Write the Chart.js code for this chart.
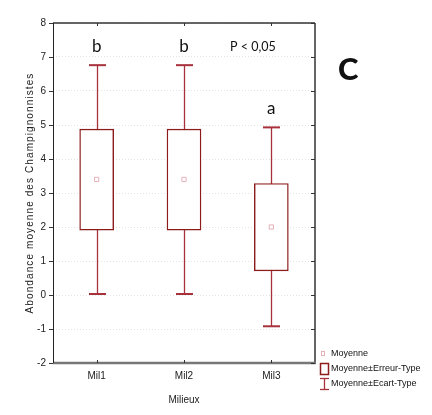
<!DOCTYPE html>
<html><head><meta charset="utf-8">
<script src="https://cdn.jsdelivr.net/npm/chart.js@4/dist/chart.umd.min.js"></script>
<style>html,body{margin:0;padding:0;background:#fff}#wrap{width:432px;height:415px}</style>
</head><body><div id="wrap"><canvas id="c" width="432" height="415"></canvas></div>
<script>
const categories = ['Mil1', 'Mil2', 'Mil3'];
const means = [3.4, 3.4, 2.0];
const seLow = [1.91, 1.91, 0.71];
const seHigh = [4.88, 4.88, 3.28];
const sdLow = [0.03, 0.03, -0.92];
const sdHigh = [6.76, 6.76, 4.93];
const letters = ['b', 'b', 'a'];
const yMin = -2, yMax = 8, yStep = 1;
const yTitle = 'Abondance moyenne des Champignonnistes';
const legendLabels = ['Moyenne', 'Moyenne±Erreur-Type', 'Moyenne±Ecart-Type'];

const BOX = '#8c1c1c', WH = '#a8323c', MEAN = '#e6b0b6';

const deco = {
  id: 'deco',
  beforeDatasetsDraw(chart) {
    const {ctx, chartArea: a, scales: {x, y}} = chart;
    ctx.save();
    // y-axis title (spaced like the original)
    ctx.fillStyle = '#222';
    ctx.font = '10px "Liberation Sans", Arial, sans-serif';
    try { ctx.letterSpacing = '1.1px'; } catch (e) {}
    ctx.translate(30, (a.top + a.bottom) / 2);
    ctx.rotate(-Math.PI / 2);
    ctx.textAlign = 'center'; ctx.textBaseline = 'middle';
    ctx.fillText(yTitle, 0, 0);
    ctx.restore();
    ctx.save();
    ctx.strokeStyle = WH; ctx.lineWidth = 1.3;
    categories.forEach((c, i) => {
      const px = Math.round(x.getPixelForValue(i)) + 0.5;
      const t = y.getPixelForValue(sdHigh[i]), b = y.getPixelForValue(sdLow[i]);
      ctx.beginPath(); ctx.moveTo(px, t); ctx.lineTo(px, b); ctx.stroke();
      ctx.lineWidth = 2;
      ctx.beginPath(); ctx.moveTo(px - 8.5, t); ctx.lineTo(px + 8.5, t); ctx.stroke();
      ctx.beginPath(); ctx.moveTo(px - 8.5, b); ctx.lineTo(px + 8.5, b); ctx.stroke();
      ctx.lineWidth = 1.3;
    });
    ctx.restore();
  },
  afterDatasetsDraw(chart) {
    const {ctx, chartArea: a, scales: {x, y}} = chart;
    ctx.save();
    // frame
    ctx.lineCap = 'butt';
    ctx.strokeStyle = '#333'; ctx.lineWidth = 1.5;
    ctx.beginPath(); ctx.moveTo(a.left, a.top); ctx.lineTo(a.right, a.top); ctx.stroke();
    ctx.strokeStyle = '#666'; ctx.lineWidth = 2;
    ctx.beginPath(); ctx.moveTo(a.right, a.top); ctx.lineTo(a.right, a.bottom); ctx.stroke();
    ctx.strokeStyle = '#777'; ctx.lineWidth = 2.5;
    ctx.beginPath(); ctx.moveTo(a.left, a.bottom); ctx.lineTo(a.right + 1, a.bottom); ctx.stroke();
    ctx.strokeStyle = '#222'; ctx.lineWidth = 1;
    ctx.beginPath(); ctx.moveTo(a.left + 0.5, a.top); ctx.lineTo(a.left + 0.5, a.bottom); ctx.stroke();
    // tick marks
    ctx.strokeStyle = '#333'; ctx.lineWidth = 1;
    for (let v = yMin; v <= yMax; v += yStep) {
      const py = Math.round(y.getPixelForValue(v)) + 0.5;
      ctx.beginPath(); ctx.moveTo(a.left - 4, py); ctx.lineTo(a.left, py); ctx.stroke();
      ctx.beginPath(); ctx.moveTo(a.right - 4, py); ctx.lineTo(a.right, py); ctx.stroke();
    }
    categories.forEach((c, i) => {
      const px = Math.round(x.getPixelForValue(i)) + 0.5;
      ctx.beginPath(); ctx.moveTo(px, a.top); ctx.lineTo(px, a.top + 3); ctx.stroke();
      ctx.beginPath(); ctx.moveTo(px, a.bottom); ctx.lineTo(px, a.bottom - 3); ctx.stroke();
    });
    // group letters
    ctx.fillStyle = '#111';
    ctx.font = '17px Lato, "Open Sans", sans-serif';
    ctx.textAlign = 'center'; ctx.textBaseline = 'alphabetic';
    categories.forEach((c, i) => {
      ctx.fillText(letters[i], x.getPixelForValue(i), y.getPixelForValue(sdHigh[i]) - 13);
    });
    ctx.font = '12.5px Lato, "Open Sans", sans-serif';
    ctx.textAlign = 'left';
    ctx.fillText('P < 0,05', 230, 51);
    ctx.font = '900 31px Lato, "Open Sans", sans-serif';
    ctx.fillText('C', 338, 80);
    // legend
    ctx.font = '9px "Liberation Sans", Arial, sans-serif';
    ctx.textBaseline = 'middle';
    ctx.fillStyle = '#111';
    const lx = 331, ly = [354, 369, 384];
    legendLabels.forEach((t, i) => ctx.fillText(t, lx, ly[i]));
    ctx.strokeStyle = MEAN; ctx.lineWidth = 1;
    ctx.strokeRect(321.5, 351.5, 3, 4);
    ctx.strokeStyle = BOX; ctx.lineWidth = 1.5;
    ctx.strokeRect(320.5, 363.5, 8, 11);
    ctx.strokeStyle = WH; ctx.lineWidth = 1.3;
    ctx.beginPath(); ctx.moveTo(324.5, 378); ctx.lineTo(324.5, 390); ctx.stroke();
    ctx.beginPath(); ctx.moveTo(320, 378.5); ctx.lineTo(329, 378.5); ctx.stroke();
    ctx.beginPath(); ctx.moveTo(320, 389.5); ctx.lineTo(329, 389.5); ctx.stroke();
    ctx.restore();
  }
};

new Chart(document.getElementById('c'), {
  type: 'bar',
  data: {
    labels: categories,
    datasets: [
      {
        type: 'bar',
        data: categories.map((c, i) => [seLow[i], seHigh[i]]),
        backgroundColor: '#ffffff',
        borderColor: BOX,
        borderWidth: 1.4,
        borderSkipped: false,
        barThickness: 34,
        order: 2
      },
      {
        type: 'line',
        data: means,
        showLine: false,
        pointStyle: 'rect',
        pointRadius: 3,
        borderColor: MEAN,
        backgroundColor: '#ffffff',
        borderWidth: 1,
        order: 1
      }
    ]
  },
  options: {
    responsive: false,
    animation: false,
    devicePixelRatio: 1,
    layout: {padding: {top: 23, right: 117, left: 0, bottom: 0}},
    plugins: {legend: {display: false}, tooltip: {enabled: false}},
    scales: {
      x: {
        grid: {display: false, drawTicks: false},
        border: {display: false},
        ticks: {color: '#222', font: {family: '"Liberation Sans", Arial, sans-serif', size: 10}, padding: 7},
        title: {display: true, text: 'Milieux', color: '#222', font: {family: '"Liberation Sans", Arial, sans-serif', size: 10}, padding: {bottom: 9, top: 0}},
        afterFit(s) { s.height = 52; }
      },
      y: {
        min: yMin, max: yMax,
        grid: {color: '#e4e4e4', drawTicks: false, lineWidth: 1},
        border: {display: false, dash: [1, 2]},
        ticks: {stepSize: yStep, color: '#222', font: {family: '"Liberation Sans", Arial, sans-serif', size: 10}, padding: 7},
        title: {display: false},
        afterFit(s) { s.width = 53; }
      }
    }
  },
  plugins: [deco]
});
</script></body></html>
